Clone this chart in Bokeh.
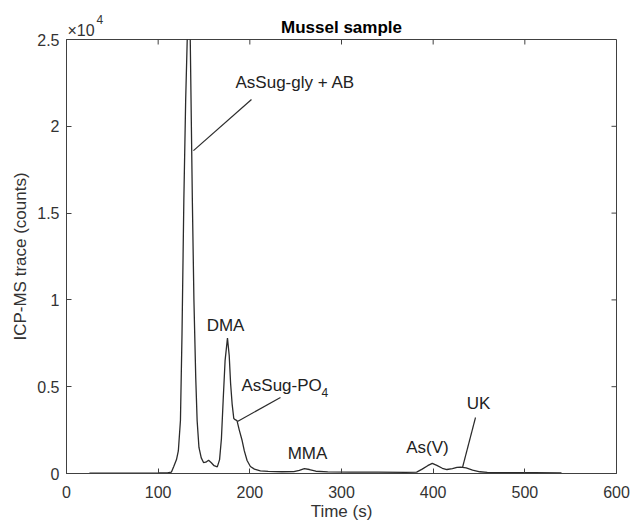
from bokeh.plotting import figure
from bokeh.models import Range1d, FixedTicker, Title
from bokeh.core.properties import value
from bokeh.embed import file_html
from bokeh.resources import INLINE

# ---- data ----
time_s = [25, 50, 75, 100, 110, 114.5, 117, 120, 122, 124.3, 126, 128, 130, 131.7, 133.6, 135,
          137.3, 139, 141, 142.5, 144.5, 147, 149.5, 152, 155, 158, 161, 164.5, 167, 169, 170.9,
          173, 175.6, 177.5, 179, 180.7, 182.5, 184, 186, 188.5, 191.6, 194, 197, 200.6, 205,
          211.5, 220, 235, 248, 254, 259.5, 265, 272, 285, 310, 340, 370, 382, 388, 394, 399,
          404, 410, 415, 421, 426, 430, 436, 443, 451, 459, 480, 510, 540]
counts = [20, 20, 25, 30, 40, 80, 400, 800, 1300, 3050, 8000, 15700, 21500, 25000, 29500, 25000,
          15700, 10000, 5500, 3050, 1500, 900, 630, 650, 760, 620, 450, 380, 800, 2000, 4200,
          6500, 7800, 6800, 5200, 4000, 3170, 3100, 3050, 2500, 1900, 1300, 750, 400, 250,
          150, 120, 100, 110, 180, 280, 230, 130, 90, 80, 75, 70, 80, 250, 450, 580,
          470, 300, 230, 280, 350, 370, 320, 200, 100, 60, 50, 45, 40]

x_ticks = [0, 100, 200, 300, 400, 500, 600]
y_ticks = [0, 5000, 10000, 15000, 20000, 25000]
y_tick_labels = ["0", "0.5", "1", "1.5", "2", "2.5"]

# peak labels (left-aligned and centred)
left_labels = ["AsSug-gly + AB", "AsSug-PO"]
left_x = [184.4, 190.9]
left_y = [22520, 5070]
center_labels = ["DMA", "MMA", "As(V)", "UK"]
center_x = [173.5, 262.9, 393.8, 449.4]
center_y = [8525, 1152, 1498, 4032]
# leader lines
lead_x0 = [201.8, 233.4, 446.2]
lead_y0 = [21540, 4380, 3226]
lead_x1 = [138.5, 186.5, 432.0]
lead_y1 = [18600, 2995, 346]

FONT = "Liberation Sans"
AX = "#404040"
TXT = "#333333"
X_MIN, X_MAX, Y_MIN, Y_MAX = 0, 600, 0, 25000
W, H = 633, 528
BL, BR, BT, BB = 66, 17, 39, 55
TICK_PX = 5

p = figure(width=W, height=H, x_range=Range1d(X_MIN, X_MAX), y_range=Range1d(Y_MIN, Y_MAX),
           output_backend="svg", toolbar_location=None,
           min_border_left=BL, min_border_right=BR, min_border_top=BT, min_border_bottom=BB)
p.background_fill_color = "white"
p.border_fill_color = "white"
p.outline_line_color = AX
p.grid.visible = False

# multiplier "×10^4" shown above the y axis
p.add_layout(Title(text="×10", align="left", offset=1, standoff=1, text_font=FONT,
                   text_font_size="16px", text_font_style="normal", text_color=TXT), "above")
p.add_layout(Title(text="4", align="left", offset=30, standoff=-8, text_font=FONT,
                   text_font_size="12px", text_font_style="normal", text_color=TXT), "above")

p.title.text = "Mussel sample"
p.title.text_font = FONT
p.title.text_font_size = "17px"
p.title.text_font_style = "bold"
p.title.text_color = "black"
p.title.align = "center"
p.title.standoff = -40

def style_axis(ax, ticks):
    ax.ticker = FixedTicker(ticks=ticks)
    ax.major_tick_in = TICK_PX
    ax.major_tick_out = 0
    ax.minor_tick_line_color = None
    ax.axis_line_color = AX
    ax.major_tick_line_color = AX
    ax.major_label_text_font = FONT
    ax.major_label_text_color = TXT
    ax.major_label_text_font_size = "16px"
    ax.axis_label_text_font = FONT
    ax.axis_label_text_font_size = "17px"
    ax.axis_label_text_font_style = "normal"
    ax.axis_label_text_color = TXT

xa = p.xaxis[0]
style_axis(xa, x_ticks)
xa.axis_label = "Time (s)"
xa.major_label_standoff = 12
xa.axis_label_standoff = 1

ya = p.yaxis[0]
style_axis(ya, y_ticks)
ya.axis_label = "ICP-MS trace (counts)"
ya.major_label_overrides = {t: s for t, s in zip(y_ticks, y_tick_labels)}
ya.major_label_standoff = 7
ya.axis_label_standoff = 4

# inward ticks on the top and right edges of the box
frame_w = W - BL - BR
frame_h = H - BT - BB
dy = TICK_PX / frame_h * (Y_MAX - Y_MIN)
dx = TICK_PX / frame_w * (X_MAX - X_MIN)
p.segment(x0=x_ticks, y0=[Y_MAX] * len(x_ticks), x1=x_ticks, y1=[Y_MAX - dy] * len(x_ticks),
          line_color=AX, line_width=1)
p.segment(x0=[X_MAX] * len(y_ticks), y0=y_ticks, x1=[X_MAX - dx] * len(y_ticks), y1=y_ticks,
          line_color=AX, line_width=1)

p.line(time_s, counts, line_color="#2b2b2b", line_width=1.3)

p.segment(x0=lead_x0, y0=lead_y0, x1=lead_x1, y1=lead_y1, line_color="#2b2b2b", line_width=1.2)

p.text(x=left_x, y=left_y, text=left_labels, text_font=value(FONT), text_font_size="17px",
       text_color="#222222", text_align="left", text_baseline="middle")
p.text(x=center_x, y=center_y, text=center_labels, text_font=value(FONT), text_font_size="17px",
       text_color="#222222", text_align="center", text_baseline="middle")
p.text(x=[left_x[1]], y=[left_y[1]], text=["4"], x_offset=80, y_offset=7,
       text_font=value(FONT), text_font_size="12px", text_color="#222222",
       text_align="left", text_baseline="middle")

open("out.html", "w").write(file_html(p, INLINE))
